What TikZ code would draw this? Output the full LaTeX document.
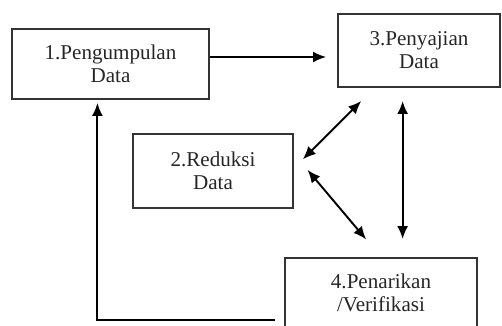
\documentclass[tikz,border=0pt]{standalone}
\usepackage{fontspec}
\setmainfont{Liberation Serif}
\usepackage{tikz}
\usetikzlibrary{arrows.meta, positioning}

\tikzset{
    kotak/.style={draw=black!80, line width=1.1pt, align=center, inner sep=0pt,
        font=\fontsize{12}{13}\selectfont, text=black!85},
    panah/.style={-{Latex[length=0.26cm,width=0.22cm]}, line width=1.1pt},
    dua/.style={{Latex[length=0.26cm,width=0.22cm]}-{Latex[length=0.26cm,width=0.22cm]}, line width=1.1pt}
}

\begin{document}
\begin{tikzpicture}[x=0.02cm, y=-0.02cm]
                    % Frame
                    \useasboundingbox (0,0) rectangle (502,325);
                    \clip (0,0) rectangle (502,325);
                    % Boxes
                    \node[kotak, minimum width=3.94cm, minimum height=1.4cm] (kumpul) at (110.5,64) {1.Pengumpulan\\Data};
                    \node[kotak, minimum width=3.24cm, minimum height=1.46cm] (sajian) at (419,50.5) {3.Penyajian\\Data};
                    \node[kotak, minimum width=3.2cm, minimum height=1.48cm] (reduksi) at (213,171) {2.Reduksi\\Data};
                    \node[kotak, minimum width=3.84cm, minimum height=1.4cm] (verif) at (381,293) {4.Penarikan\\/Verifikasi};
                    % Arrows
                    \draw[panah, shorten >=0.22cm] (kumpul.east |- 0,57) -- (sajian.west |- 0,57);
                    \draw[dua, shorten <=0.25cm, shorten >=0.37cm] (reduksi.2) -- (sajian.220);
                    \draw[dua, shorten <=0.26cm, shorten >=0.36cm] (verif.59 |- sajian.south) -- (verif.59);
                    \draw[dua, shorten <=0.42cm, shorten >=0.46cm] (reduksi.12) -- (verif.north);
                    % Back to step 1
                    \coordinate (ujung) at (275,320);
                    \draw[panah, shorten >=0.06cm] (ujung) -| (kumpul.250);
                \end{tikzpicture}
\end{document}
